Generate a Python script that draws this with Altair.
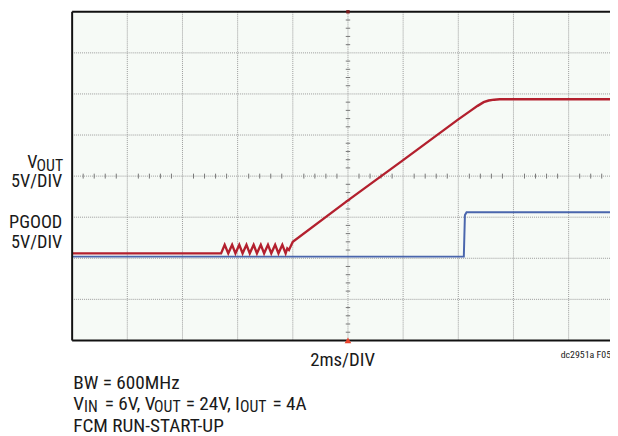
import altair as alt
import pandas as pd

# ---- data (x in time divisions, 2ms/div; y in screen divisions from bottom) ----
vout_t = [0.00, 2.70, 2.765, 2.83, 2.90, 2.96, 3.03, 3.09, 3.16, 3.22, 3.29, 3.35,
          3.42, 3.48, 3.55, 3.61, 3.68, 3.74, 3.81, 3.87, 3.90, 3.93, 4.00, 5.00,
          6.00, 7.00, 7.20, 7.35, 7.46, 7.55, 7.65, 7.75, 9.75]
vout_v = [2.12, 2.12, 2.33, 2.12, 2.33, 2.12, 2.33, 2.12, 2.33, 2.12, 2.33, 2.12,
          2.33, 2.12, 2.33, 2.12, 2.33, 2.12, 2.33, 2.12, 2.24, 2.20, 2.40, 3.41,
          4.39, 5.38, 5.57, 5.71, 5.80, 5.84, 5.86, 5.87, 5.87]
pgood_t = [0.00, 7.10, 7.12, 7.15, 9.75]
pgood_v = [2.04, 2.04, 3.05, 3.12, 3.12]

x_grid = [1, 2, 3, 4, 5, 6, 7, 8, 9]
y_grid = [1, 2, 3, 4, 5, 6, 7]
x_minor = [i / 5 for i in range(1, 49) if i % 5]
y_minor = [i / 5 for i in range(1, 40) if i % 5]

X_MAX = 9.75
FONT = "Roboto Condensed"

xs = alt.Scale(domain=[0, X_MAX], nice=False, zero=False)
ys = alt.Scale(domain=[0, 8], nice=False, zero=False)

def X(f):
    return alt.X(f, type="quantitative", scale=xs, axis=None)

def Y(f):
    return alt.Y(f, type="quantitative", scale=ys, axis=None)

vout_df = pd.DataFrame({"t": vout_t, "v": vout_v})
pgood_df = pd.DataFrame({"t": pgood_t, "v": pgood_v})

vgrid = alt.Chart(pd.DataFrame({"x": x_grid})).mark_rule(
    color="#9a9a9a", strokeWidth=1, strokeDash=[1, 1]).encode(x=X("x"))
hgrid = alt.Chart(pd.DataFrame({"y": y_grid})).mark_rule(
    color="#9a9a9a", strokeWidth=1, strokeDash=[1, 1]).encode(y=Y("y"))

hmin = alt.Chart(pd.DataFrame({"x": x_minor, "a": 3.94, "b": 4.06})).mark_rule(
    color="#777777", strokeWidth=1).encode(x=X("x"), y=Y("a"), y2="b")
vmin = alt.Chart(pd.DataFrame({"y": y_minor, "a": 4.96, "b": 5.04})).mark_rule(
    color="#777777", strokeWidth=1).encode(y=Y("y"), x=X("a"), x2="b")

border_h = alt.Chart(pd.DataFrame({"y": [0, 8]})).mark_rule(
    color="#111111", strokeWidth=2).encode(y=Y("y"))
border_v = alt.Chart(pd.DataFrame({"x": [0]})).mark_rule(
    color="#111111", strokeWidth=2).encode(x=X("x"))

blue = alt.Chart(pgood_df).mark_line(color="#4a66ad", strokeWidth=2).encode(
    x=X("t"), y=Y("v"), order="t:Q")
red = alt.Chart(vout_df).mark_line(color="#b3202e", strokeWidth=2.4).encode(
    x=X("t"), y=Y("v"), order="t:Q")

marker_b = alt.Chart(pd.DataFrame({"x": [5], "y": [0]})).mark_point(
    shape="triangle-up", size=45, filled=True, color="#e8432c", opacity=1).encode(
    x=X("x"), y=Y("y"))
marker_t = alt.Chart(pd.DataFrame({"x": [5], "y": [8]})).mark_point(
    shape="square", size=12, filled=True, color="#7a1a1a", opacity=1).encode(
    x=X("x"), y=Y("y"))

def txt(s, x, y, size=19.5, align="left"):
    return alt.Chart(pd.DataFrame({"s": [s]})).mark_text(
        font=FONT, fontSize=size, align=align, baseline="alphabetic",
        color="#1a1a1a").encode(text="s:N", x=alt.value(x), y=alt.value(y))

texts = [
    txt("V", -35, 158, size=18.5, align="right"),
    txt("OUT", -36, 161, size=16),
    txt("5V/DIV", -10, 178, size=18.5, align="right"),
    txt("PGOOD", -10, 219, size=18.5, align="right"),
    txt("5V/DIV", -10, 239, size=18.5, align="right"),
    txt("2ms/DIV", 274, 359, size=19, align="center"),
    txt("dc2951a F05", 495, 351, size=10),
    txt("BW = 600MHz", 1, 382),
    txt("V", 1, 403),
    txt("IN", 12, 406, size=16),
    txt("= 6V, V", 33, 403),
    txt("OUT", 83, 406, size=16),
    txt("= 24V, I", 115, 403),
    txt("OUT", 170, 406, size=16),
    txt("= 4A", 203, 403),
    txt("FCM RUN-START-UP", 1, 426),
]

chart = alt.layer(vgrid, hgrid, hmin, vmin, blue, red, border_h, border_v,
                  marker_b, marker_t, *texts).properties(
    width=545, height=333,
    autosize=alt.AutoSizeParams(type="none"),
    padding={"left": 65, "top": 1, "right": 0, "bottom": 94},
).configure_view(fill="#f6faf6", strokeWidth=0)

chart.save("out.html", embed_options={"renderer": "svg", "actions": False})
